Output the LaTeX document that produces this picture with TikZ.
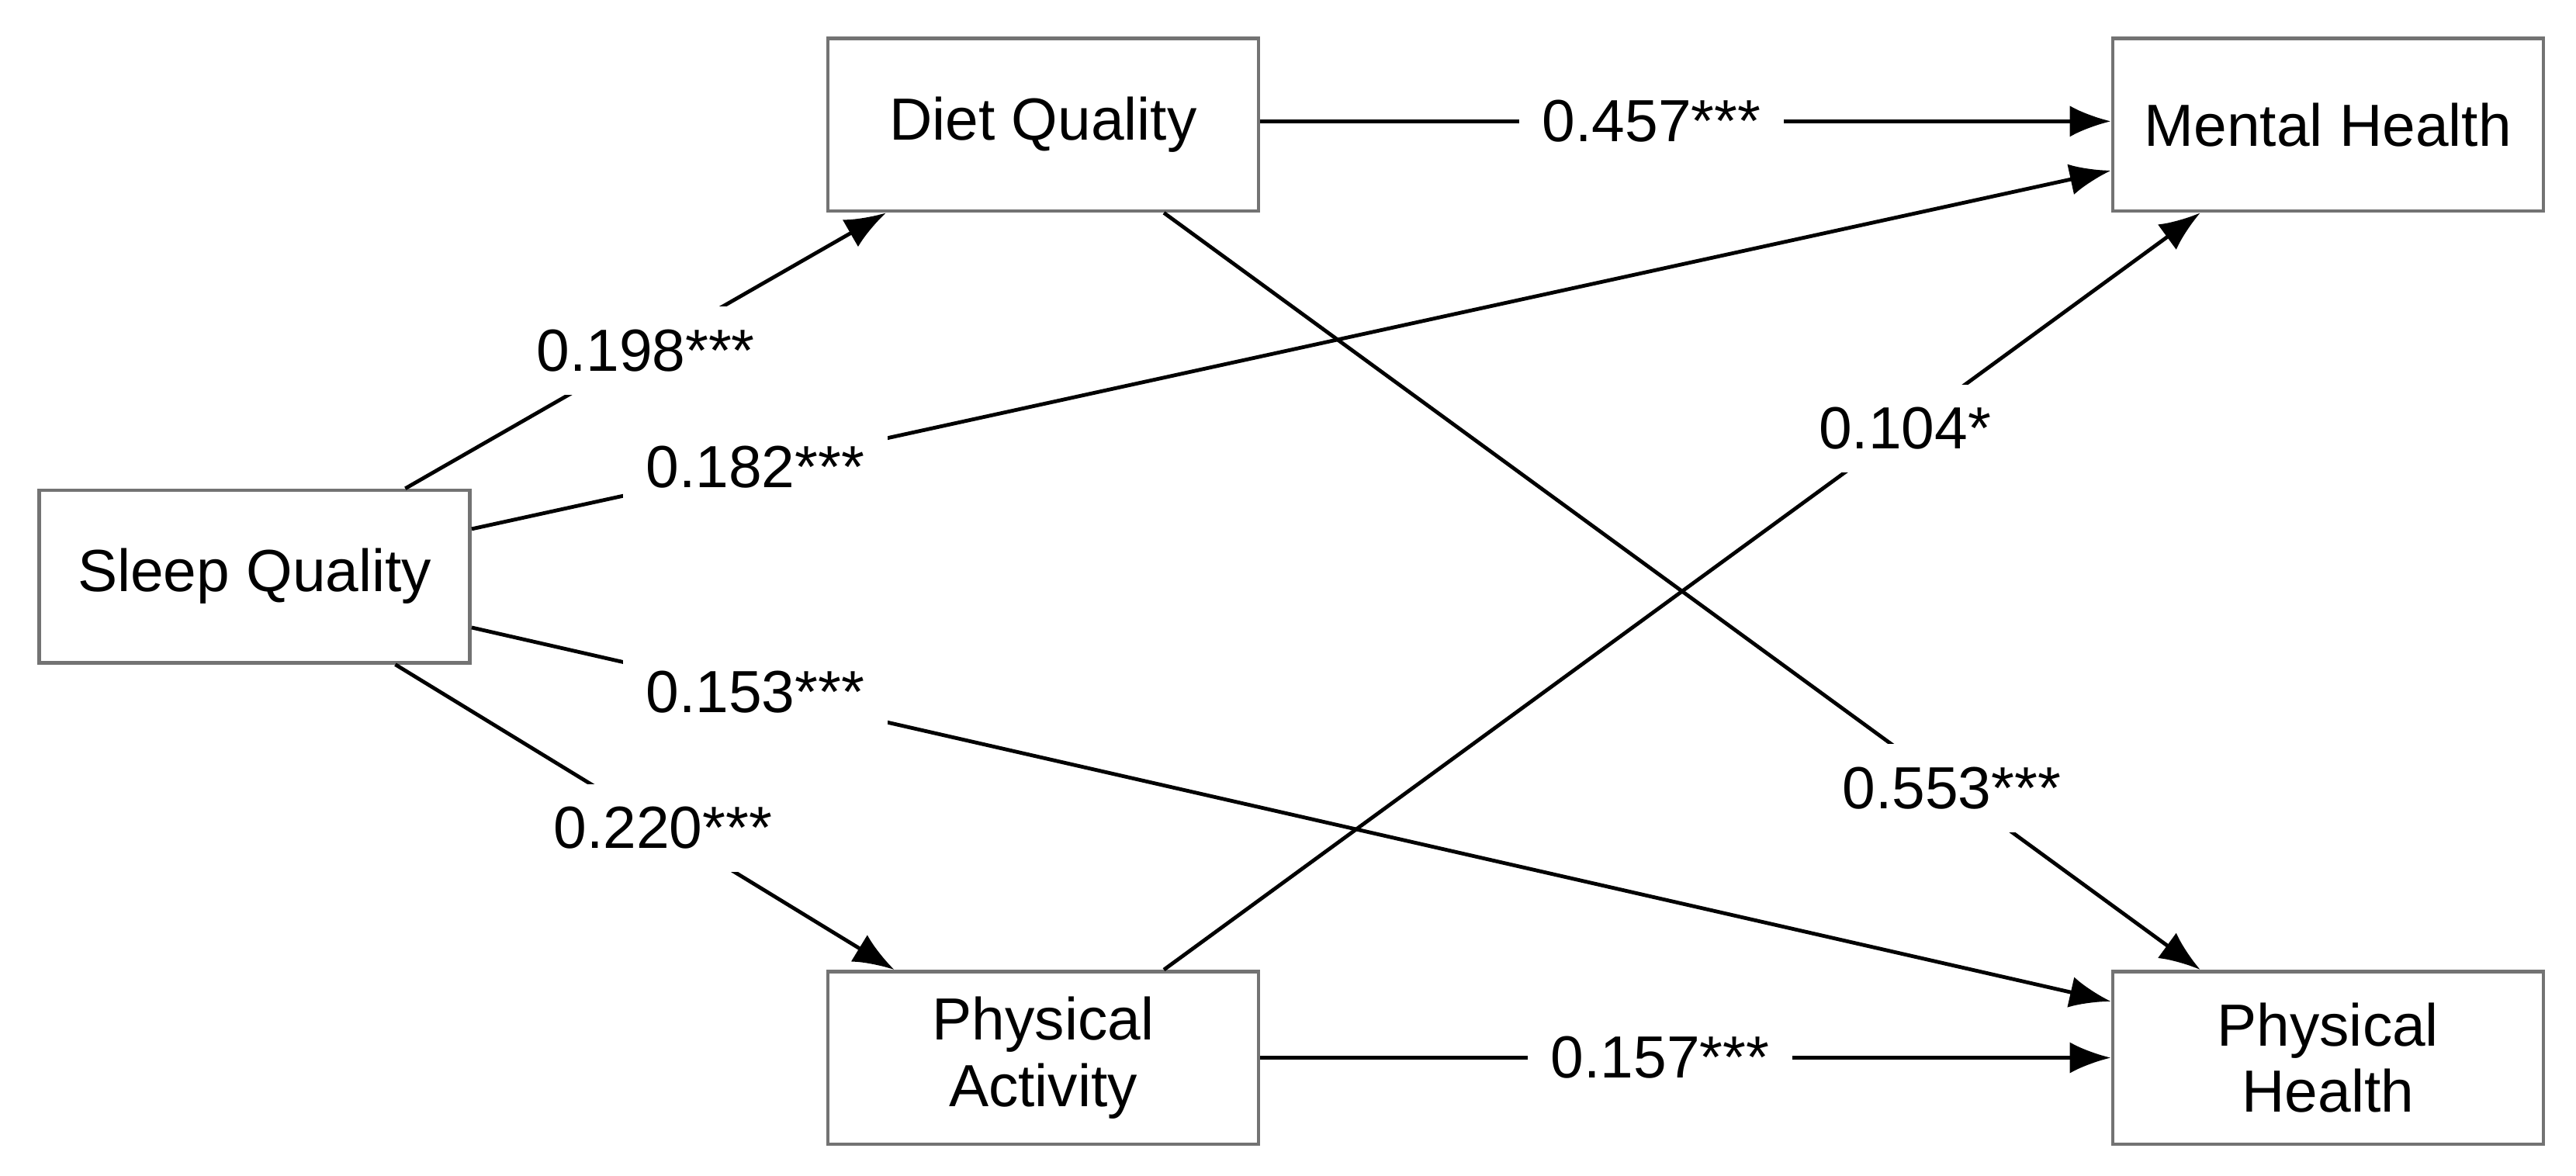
\documentclass[tikz,border=0pt]{standalone}
\usepackage{fontspec}
\setmainfont{Liberation Sans}
\usetikzlibrary{arrows.meta,calc}
\begin{document}
\begin{tikzpicture}[x=0.01cm,y=-0.01cm,
  box/.style={draw=black!55,line width=0.6pt,minimum width=2.62cm,minimum height=1.05cm,align=center,font=\fontsize{10.3}{11.5}\selectfont,inner sep=0pt},
  arr/.style={line width=0.65pt,-{Latex[length=2.5mm,width=1.9mm]}},
  lbl/.style={fill=white,font=\fontsize{10.3}{12}\selectfont,inner xsep=4pt,inner ysep=4pt}]
\useasboundingbox (0,0) rectangle (1568,716);
\node[box] (sq) at (155,351) {Sleep Quality};
\node[box] (dq) at (635,76) {Diet Quality};
\node[box] (mh) at (1417,76) {Mental Health};
\node[box] (pa) at (635,644) {Physical\\Activity};
\node[box] (ph) at (1417,644) {Physical\\Health};
\draw[arr] ($(sq.north west)!0.847!(sq.north east)$) -- node[lbl,pos=0.5]{0.198***} ($(dq.south west)!0.138!(dq.south east)$);
\draw[arr] ($(sq.north east)!0.23!(sq.south east)$) -- node[lbl,pos=0.173]{0.182***} ($(mh.north west)!0.76!(mh.south west)$);
\draw[arr] ($(sq.north east)!0.79!(sq.south east)$) -- node[lbl,pos=0.173]{0.153***} ($(ph.north west)!0.18!(ph.south west)$);
\draw[arr] ($(sq.south west)!0.824!(sq.south east)$) -- node[lbl,pos=0.536]{0.220***} ($(pa.north west)!0.157!(pa.north east)$);
\draw[arr] ($(dq.north east)!0.48!(dq.south east)$) -- node[lbl,pos=0.46]{0.457***} ($(mh.north west)!0.48!(mh.south west)$);
\draw[arr] ($(dq.south west)!0.778!(dq.south east)$) -- node[lbl,pos=0.76]{0.553***} ($(ph.north west)!0.206!(ph.north east)$);
\draw[arr] ($(pa.north west)!0.778!(pa.north east)$) -- node[lbl,pos=0.715]{0.104*} ($(mh.south west)!0.206!(mh.south east)$);
\draw[arr] ($(pa.north east)!0.5!(pa.south east)$) -- node[lbl,pos=0.47]{0.157***} ($(ph.north west)!0.5!(ph.south west)$);
\end{tikzpicture}
\end{document}
